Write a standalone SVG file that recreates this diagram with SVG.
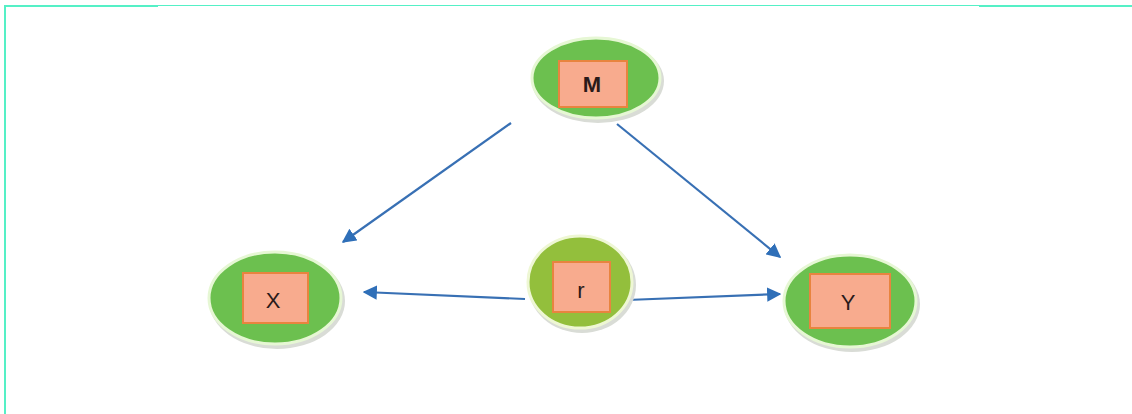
<svg xmlns="http://www.w3.org/2000/svg" width="1132" height="414" viewBox="0 0 1132 414">
<defs>
<style>
.halo{fill:#d9dcd6;}
.ell{fill:#6cc04f;stroke:#e6f7d4;stroke-width:3;}
.ellz{fill:#93bf3c;stroke:#eef7d4;stroke-width:3;}
.box{fill:#f8ab8e;stroke:#e8843f;stroke-width:2;}
.lbl{font-family:"Liberation Sans",Arial,sans-serif;font-size:22px;fill:#2a1a1a;text-anchor:middle;dominant-baseline:central;}
.edge{stroke:#3870b4;stroke-width:2.2;fill:none;marker-end:url(#ah);}
.frame{stroke:#55f0c6;fill:none;}
</style>
<marker id="ah" viewBox="0 0 10 10" refX="9" refY="5" markerWidth="6.5" markerHeight="6.5" orient="auto" markerUnits="strokeWidth">
<path d="M0,0 L10,5 L0,10 z" fill="#2f6fb8"/>
</marker>
</defs>
<rect width="1132" height="414" fill="#ffffff"/>
<g id="frame">
<line class="frame" x1="5" y1="5" x2="5" y2="414" stroke-width="2"/>
<line class="frame" x1="4" y1="6" x2="158" y2="6" stroke-width="2"/>
<line class="frame" x1="158" y1="5.5" x2="980" y2="5.5" stroke-width="1"/>
<line class="frame" x1="979" y1="6" x2="1132" y2="6" stroke-width="2"/>
</g>
<g id="connectors">
<line class="edge" x1="511" y1="123" x2="343" y2="242"/>
<line class="edge" x1="617" y1="124" x2="780" y2="257"/>
<line class="edge" x1="525" y1="299" x2="364" y2="292"/>
<line class="edge" x1="627" y1="300" x2="780" y2="294"/>
</g>
<g id="node-M">
<ellipse class="halo" cx="598" cy="81" rx="66" ry="42"/>
<ellipse class="ell" cx="596" cy="78" rx="64" ry="40"/>
<rect class="box" x="559" y="61" width="68" height="46"/>
<text class="lbl" x="592" y="84" font-weight="bold">M</text>
</g>
<g id="node-X">
<ellipse class="halo" cx="277" cy="301" rx="68" ry="48"/>
<ellipse class="ell" cx="275" cy="298" rx="66" ry="46"/>
<rect class="box" x="243" y="273" width="65" height="50"/>
<text class="lbl" x="273" y="300">X</text>
</g>
<g id="node-Z">
<ellipse class="halo" cx="582" cy="285" rx="54" ry="48"/>
<ellipse class="ellz" cx="580" cy="282" rx="52" ry="46"/>
<rect class="box" x="553" y="262" width="57" height="50"/>
<text class="lbl" x="581" y="290">r</text>
</g>
<g id="node-Y">
<ellipse class="halo" cx="852" cy="304" rx="68" ry="48"/>
<ellipse class="ell" cx="850" cy="301" rx="66" ry="46"/>
<rect class="box" x="810" y="274" width="80" height="54"/>
<text class="lbl" x="848" y="302">Y</text>
</g>
</svg>
